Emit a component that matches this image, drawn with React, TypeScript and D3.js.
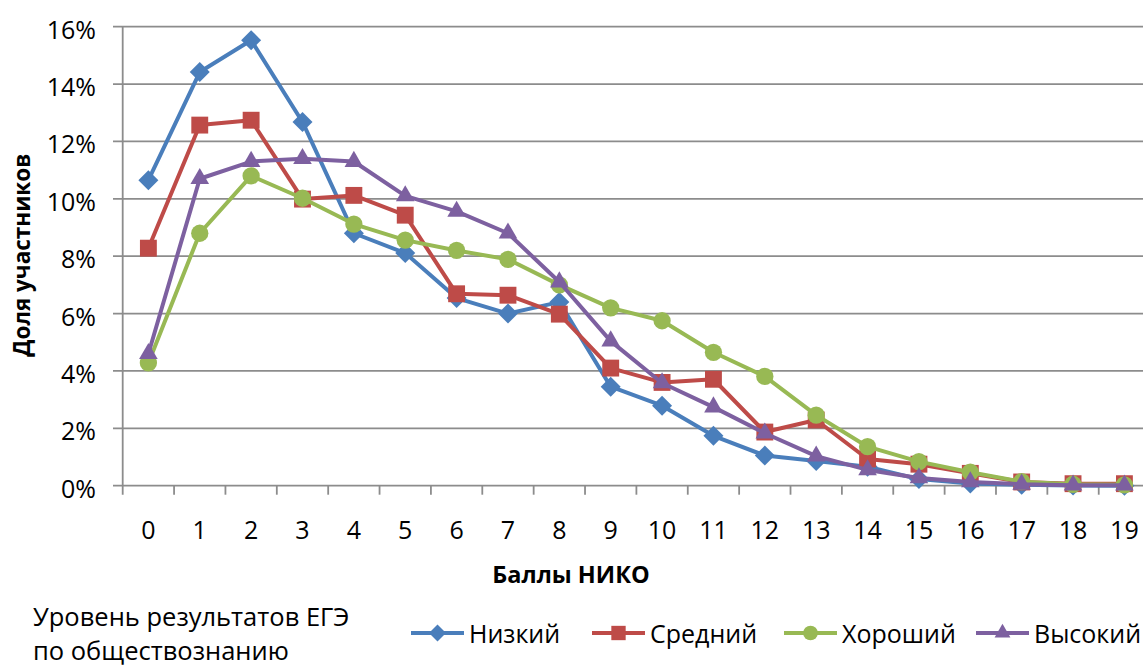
import React from "react";
import * as d3 from "d3";

const categories = ["0","1","2","3","4","5","6","7","8","9","10","11","12","13","14","15","16","17","18","19"];
const yTicks = [0, 2, 4, 6, 8, 10, 12, 14, 16];

const seriesNames = ["Низкий", "Средний", "Хороший", "Высокий"];
const lowValues = [10.65, 14.42, 15.53, 12.68, 8.8, 8.11, 6.54, 6.0, 6.4, 3.45, 2.79, 1.74, 1.05, 0.86, 0.66, 0.23, 0.08, 0.03, 0.01, 0.0];
const midValues = [8.28, 12.57, 12.74, 9.99, 10.12, 9.43, 6.69, 6.64, 5.98, 4.1, 3.6, 3.71, 1.87, 2.29, 0.93, 0.75, 0.43, 0.13, 0.07, 0.07];
const goodValues = [4.28, 8.8, 10.8, 10.02, 9.12, 8.56, 8.2, 7.89, 7.0, 6.2, 5.75, 4.65, 3.81, 2.46, 1.36, 0.84, 0.47, 0.14, 0.05, 0.03];
const highValues = [4.6, 10.7, 11.3, 11.4, 11.3, 10.1, 9.56, 8.8, 7.1, 5.04, 3.58, 2.74, 1.83, 1.03, 0.55, 0.27, 0.13, 0.05, 0.02, 0.02];
const seriesColors = ["#4A7EBB", "#BE4B48", "#98B954", "#7D60A0"];
const seriesShapes = ["diamond", "square", "circle", "triangle"];

const FONT = "'Open Sans', 'Noto Sans', sans-serif";

function markerPath(shape: string, scale: number) {
  if (shape === "diamond") return d3.symbol().type(d3.symbolSquare).size(200 * scale * scale)() as string;
  if (shape === "square") return d3.symbol().type(d3.symbolSquare).size(285 * scale * scale)() as string;
  if (shape === "circle") return d3.symbol().type(d3.symbolCircle).size(235 * scale * scale)() as string;
  return d3.symbol().type(d3.symbolTriangle).size(150 * scale * scale)() as string;
}

export default function App() {
  const W = 1143, H = 666;
  const left = 122.7, bottom = 485.7, top = 26.7;
  const step = 51.37;
  const x = d3.scaleBand<string>().domain(categories).range([left, left + step * categories.length]).padding(0);
  const y = d3.scaleLinear().domain([0, 16]).range([bottom, top]);
  const cx = (c: string) => (x(c) as number) + x.bandwidth() / 2;
  const allSeries = [lowValues, midValues, goodValues, highValues];
  const line = d3.line<number>().x((_, i) => cx(categories[i])).y((v) => y(v));
  const plotRight = left + step * categories.length;

  const legendItems = [
    { lineX: 411, textX: 469 },
    { lineX: 592, textX: 650 },
    { lineX: 784, textX: 842 },
    { lineX: 976, textX: 1034 },
  ];
  const legendY = 633;

  return (
    <svg width={W} height={H} style={{ position: "absolute", left: 0, top: 0, background: "#fff" }} fontFamily={FONT}>
      <rect x={0} y={0} width={W} height={H} fill="#fff" />
      {yTicks.map((t) => (
        <line key={"g" + t} x1={113} x2={plotRight} y1={y(t)} y2={y(t)} stroke="#8C8C8C" strokeWidth={1.8} />
      ))}
      <line x1={left} x2={left} y1={top} y2={bottom + 9} stroke="#8C8C8C" strokeWidth={1.8} />
      {categories.map((c) => (
        <line key={"xt" + c} x1={(x(c) as number) + x.bandwidth()} x2={(x(c) as number) + x.bandwidth()} y1={bottom} y2={bottom + 9} stroke="#8C8C8C" strokeWidth={1.8} />
      ))}
      {yTicks.map((t) => (
        <text key={"yl" + t} x={96} y={y(t) + 2} textAnchor="end" dominantBaseline="central" fontSize={25} fill="#000">
          {t + "%"}
        </text>
      ))}
      {categories.map((c) => (
        <text key={"xl" + c} x={cx(c)} y={528.5} textAnchor="middle" dominantBaseline="central" fontSize={25} fill="#000">
          {c}
        </text>
      ))}
      <text x={0} y={0} transform={`translate(21,${(top + bottom) / 2 - 1}) rotate(-90)`} textAnchor="middle" dominantBaseline="central" fontSize={22.5} fontWeight="bold" fill="#000">
        Доля участников
      </text>
      <text x={571} y={574} textAnchor="middle" dominantBaseline="central" fontSize={23.5} fontWeight="bold" fill="#000">
        Баллы НИКО
      </text>
      {allSeries.map((vals, si) => (
        <g key={"s" + si}>
          <path d={line(vals) as string} fill="none" stroke={seriesColors[si]} strokeWidth={4} strokeLinejoin="round" />
          {vals.map((v, i) => (
            <path
              key={i}
              d={markerPath(seriesShapes[si], 1)}
              transform={`translate(${cx(categories[i])},${y(v)})${seriesShapes[si] === "diamond" ? " rotate(45)" : ""}`}
              fill={seriesColors[si]}
            />
          ))}
        </g>
      ))}
      <text x={33} y={616} dominantBaseline="central" fontSize={25.5} fill="#000">Уровень результатов ЕГЭ</text>
      <text x={33} y={650} dominantBaseline="central" fontSize={25.5} fill="#000">по обществознанию</text>
      {legendItems.map((it, si) => (
        <g key={"l" + si}>
          <line x1={it.lineX} x2={it.lineX + 53} y1={legendY} y2={legendY} stroke={seriesColors[si]} strokeWidth={4} />
          <path
            d={markerPath(seriesShapes[si], 0.85)}
            transform={`translate(${it.lineX + 26.5},${legendY})${seriesShapes[si] === "diamond" ? " rotate(45)" : ""}`}
            fill={seriesColors[si]}
          />
          <text x={it.textX} y={legendY} dominantBaseline="central" fontSize={25} fill="#000">
            {seriesNames[si]}
          </text>
        </g>
      ))}
    </svg>
  );
}
